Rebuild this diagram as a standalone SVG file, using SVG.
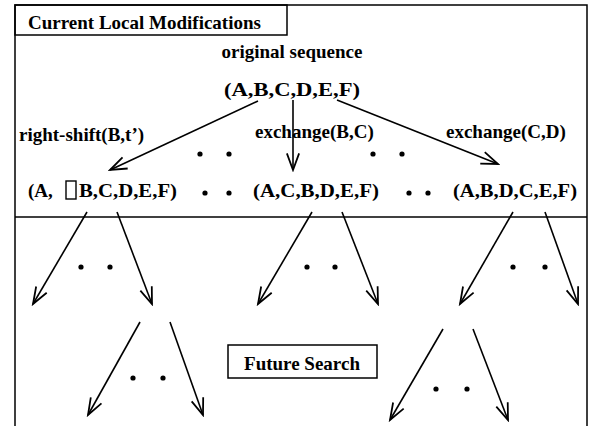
<svg xmlns="http://www.w3.org/2000/svg" width="598" height="426" viewBox="0 0 598 426">
<style>
.t{font-family:"Liberation Serif","Times New Roman",serif;font-weight:bold;font-size:19px;fill:#000}
.ln{stroke:#000;stroke-width:1.6;fill:none}
.fr{stroke:#000;stroke-width:1.5;fill:none}
.dot{fill:#000}
</style>
<defs>
<marker id="ah" markerUnits="userSpaceOnUse" markerWidth="20" markerHeight="20" viewBox="-16 -8 18 16" refX="0" refY="0" orient="auto">
<path d="M-15,-5.5 L0,0 L-15,5.5" stroke="#000" stroke-width="1.6" fill="none"/>
</marker>
</defs>
<rect width="598" height="426" fill="#fff"/>
<g id="frame">
<path class="fr" d="M15,426 V5 H587 V426"/>
<line class="fr" x1="15" y1="217" x2="587" y2="217"/>
</g>
<g id="title">
<rect class="fr" x="15" y="5" width="272" height="30"/>
<text class="t" x="28" y="29">Current Local Modifications</text>
</g>
<g id="original">
<text class="t" x="292" y="58" text-anchor="middle">original sequence</text>
<text class="t" x="292" y="96" text-anchor="middle" textLength="136" lengthAdjust="spacingAndGlyphs">(A,B,C,D,E,F)</text>
</g>
<g id="labels">
<text class="t" x="19" y="141">right-shift(B,t’)</text>
<text class="t" x="255" y="138">exchange(B,C)</text>
<text class="t" x="446" y="138">exchange(C,D)</text>
</g>
<g id="seq1">
<text class="t" x="28" y="197">(A,</text>
<rect x="66" y="181" width="10" height="18" fill="none" stroke="#000" stroke-width="1.4"/>
<text class="t" x="79" y="197" textLength="98" lengthAdjust="spacingAndGlyphs">B,C,D,E,F)</text>
</g>
<g id="seq2">
<text class="t" x="316" y="197" text-anchor="middle" textLength="126" lengthAdjust="spacingAndGlyphs">(A,C,B,D,E,F)</text>
</g>
<g id="seq3">
<text class="t" x="515" y="197" text-anchor="middle" textLength="124" lengthAdjust="spacingAndGlyphs">(A,B,D,C,E,F)</text>
</g>
<g id="future">
<rect class="fr" x="228" y="345" width="149" height="33"/>
<text class="t" x="302" y="370" text-anchor="middle">Future Search</text>
</g>
<g id="dots">
<circle class="dot" cx="200" cy="154" r="2.6"/><circle class="dot" cx="229" cy="154" r="2.6"/>
<circle class="dot" cx="373" cy="154" r="2.6"/><circle class="dot" cx="402" cy="154" r="2.6"/>
<circle class="dot" cx="205" cy="193" r="2.6"/><circle class="dot" cx="229" cy="193" r="2.6"/>
<circle class="dot" cx="409" cy="193" r="2.6"/><circle class="dot" cx="428" cy="193" r="2.6"/>
<circle class="dot" cx="81" cy="267" r="2.6"/><circle class="dot" cx="110" cy="267" r="2.6"/>
<circle class="dot" cx="307" cy="267" r="2.6"/><circle class="dot" cx="335" cy="267" r="2.6"/>
<circle class="dot" cx="513" cy="267" r="2.6"/><circle class="dot" cx="545" cy="267" r="2.6"/>
<circle class="dot" cx="133" cy="378" r="2.6"/><circle class="dot" cx="163" cy="378" r="2.6"/>
<circle class="dot" cx="436" cy="389" r="2.6"/><circle class="dot" cx="467" cy="389" r="2.6"/>
</g>
<g id="connectors">
<line class="ln" x1="258" y1="101" x2="110" y2="170" marker-end="url(#ah)"/>
<line class="ln" x1="293" y1="100" x2="293" y2="170" marker-end="url(#ah)"/>
<line class="ln" x1="337" y1="100" x2="498" y2="164" marker-end="url(#ah)"/>
<line class="ln" x1="87" y1="212" x2="33" y2="304" marker-end="url(#ah)"/>
<line class="ln" x1="117" y1="212" x2="152" y2="304" marker-end="url(#ah)"/>
<line class="ln" x1="312" y1="212" x2="258" y2="304" marker-end="url(#ah)"/>
<line class="ln" x1="342" y1="212" x2="378" y2="304" marker-end="url(#ah)"/>
<line class="ln" x1="513" y1="212" x2="460" y2="304" marker-end="url(#ah)"/>
<line class="ln" x1="545" y1="212" x2="578" y2="304" marker-end="url(#ah)"/>
<line class="ln" x1="140" y1="322" x2="88" y2="415" marker-end="url(#ah)"/>
<line class="ln" x1="170" y1="322" x2="203" y2="415" marker-end="url(#ah)"/>
<line class="ln" x1="443" y1="329" x2="390" y2="420" marker-end="url(#ah)"/>
<line class="ln" x1="473" y1="329" x2="508" y2="420" marker-end="url(#ah)"/>
</g>
</svg>
